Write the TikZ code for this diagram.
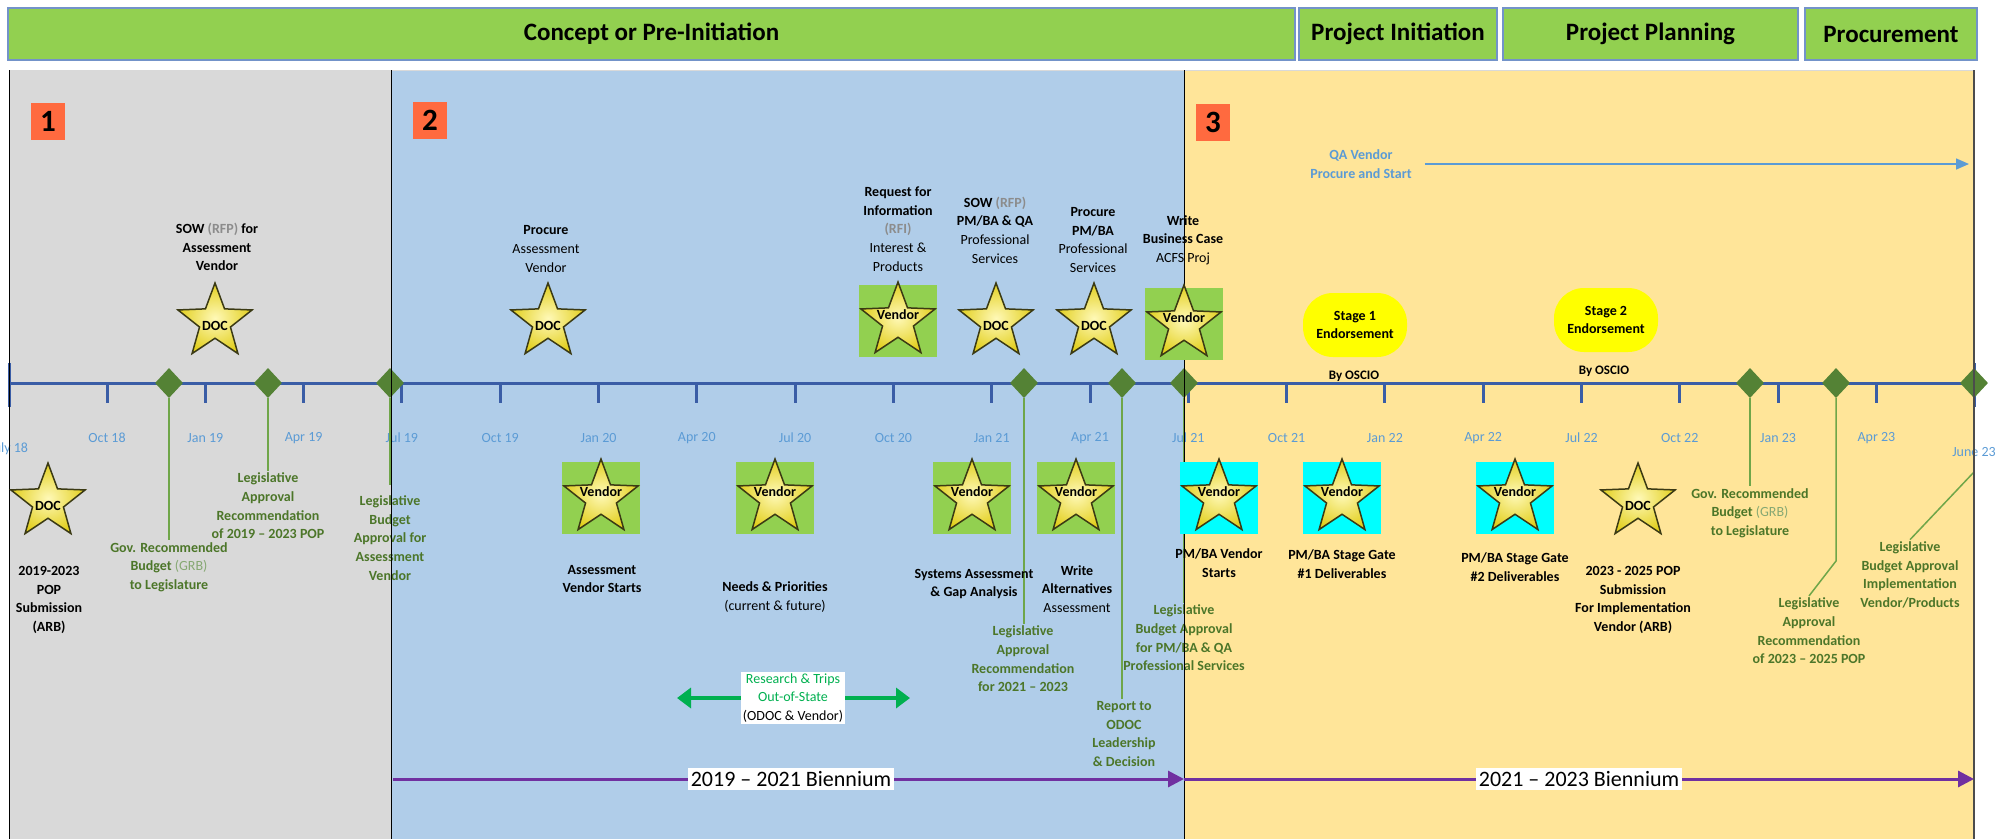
\documentclass[tikz,border=0pt]{standalone}
\usepackage{fontspec}
\setmainfont{Carlito}
\usepackage{tikz}
\usetikzlibrary{arrows.meta,shapes.geometric}
\definecolor{leafgreen}{HTML}{92D050}
\definecolor{phaseline}{HTML}{7393C9}
\definecolor{stonegray}{HTML}{D9D9D9}
\definecolor{skyblue}{HTML}{B0CDE9}
\definecolor{wheat}{HTML}{FFE599}
\definecolor{axisblue}{HTML}{3A5DA6}
\definecolor{flag}{HTML}{FF6A3F}
\definecolor{moss}{HTML}{548235}
\definecolor{stemgreen}{HTML}{6FA649}
\definecolor{mossdark}{HTML}{4C7629}
\definecolor{mosslight}{HTML}{86A873}
\definecolor{monthblue}{HTML}{5B9BD5}
\definecolor{aqua}{HTML}{00FFFF}
\definecolor{grape}{HTML}{7030A0}
\definecolor{tripgreen}{HTML}{00B050}
\definecolor{lemon}{HTML}{FFFF00}
\definecolor{rfpgray}{HTML}{8C8C8C}
\definecolor{starrim}{HTML}{3B3A14}
\definecolor{starcore}{HTML}{FFF9B8}
\definecolor{starglow}{HTML}{E2CF1E}
\tikzset{
  phase/.style={draw=phaseline,line width=1.5pt,fill=leafgreen,minimum height=52pt,
    inner sep=0pt,font=\fontsize{25}{30}\selectfont\bfseries},
  numbox/.style={fill=flag,minimum width=34pt,minimum height=37pt,inner sep=0pt,
    font=\fontsize{31}{31}\selectfont\bfseries},
  month/.style={text=monthblue,font=\fontsize{14}{16}\selectfont},
  axtick/.style={draw=axisblue,line width=3pt},
  gem/.style={diamond,fill=moss,minimum width=28pt,minimum height=30pt,inner sep=0pt},
  stem/.style={draw=stemgreen,line width=1.5pt},
  glab/.style={align=center,text=mossdark,inner sep=2pt,font=\fontsize{14}{18.6}\selectfont\bfseries},
  note/.style={align=center,inner sep=1pt,font=\fontsize{14}{18.6}\selectfont},
  boldnote/.style={note,font=\fontsize{14}{18.6}\selectfont\bfseries},
  starry/.style={star,star points=5,star point ratio=2.4,draw=starrim,line width=1.5pt,
    inner color=starcore,outer color=starglow,minimum size=78pt,inner sep=0pt},
  startxt/.style={font=\fontsize{14}{14}\selectfont\bfseries,inner sep=0pt},
  vbox/.style={minimum width=78pt,minimum height=72pt,inner sep=0pt},
  stage/.style={fill=lemon,rounded corners=30pt,minimum width=104pt,minimum height=64pt,
    align=center,inner sep=0pt,font=\fontsize{14}{18.6}\selectfont\bfseries},
  biarrow/.style={-{Triangle[length=16pt,width=16pt]},draw=grape,line width=3pt},
  bilab/.style={fill=white,inner sep=3pt,font=\fontsize{22}{22}\selectfont},
  trip/.style={-{Triangle[length=14pt,width=20pt]},draw=tripgreen,line width=4pt},
  qaline/.style={-{Triangle[length=13pt,width=11pt]},draw=monthblue,line width=1.5pt},
}
\begin{document}
\begin{tikzpicture}[x=1pt,y=-1pt]
  \useasboundingbox (0,0) rectangle (2005,839);
  \fill[stonegray] (9,70) rectangle (391,839); \fill[skyblue] (391,70) rectangle (1184,839);
  \fill[wheat] (1184,70) rectangle (1974,839);
  \draw[black!15,line width=1pt] (9,70) -- (1974,70);
  \node[phase,minimum width=1287pt] (hd1) at (651.5,34) {Concept or Pre-Initiation};
  \node[phase,minimum width=198pt] (hd2) at (1398,34) {Project Initiation};
  \node[phase,minimum width=295pt] (hd3) at (1650.5,34) {Project Planning};
  \node[phase,minimum width=172pt] (hd4) at (1891,34) {Procurement};
  \node[numbox] (n1) at (48,121) {1}; \node[numbox] (n2) at (430,120) {2};
  \node[numbox] (n3) at (1213,122) {3};
  % time axis
  \coordinate (ax0) at (9,383); \coordinate (ax1) at (1974,383);
  \draw[axtick] (ax0) -- (ax1); \draw[axtick] (9,363) -- (9,407); \draw[axtick] (1974,363) -- (1974,407);
  \foreach \i/\m in {1/Oct 18,2/Jan 19,3/Apr 19,4/Jul 19,5/Oct 19,6/Jan 20,7/Apr 20,8/Jul 20,
    9/Oct 20,10/Jan 21,11/Apr 21,12/Jul 21,13/Oct 21,14/Jan 22,15/Apr 22,16/Jul 22,17/Oct 22,
    18/Jan 23,19/Apr 23}{
    \draw[axtick] (8.7+98.3*\i,383) -- (8.7+98.3*\i,403);
    \node[month] (m\i) at (8.7+98.3*\i,438) {\m};
  }
  \node[month] (m0) at (8.7,449) {July 18}; \node[month] (m20) at (1974,452) {June 23};
  % milestones
  \node[glab] (g1) at (169,567) {Gov. Recommended\\Budget {\mdseries\color{mosslight}(GRB)}\\to Legislature};
  \node[glab] (g2) at (268,506) {Legislative\\Approval\\Recommendation\\of 2019 -- 2023 POP};
  \node[glab] (g3) at (390,538) {Legislative\\Budget\\Approval for\\Assessment\\Vendor};
  \node[glab] (g4) at (1023,659) {Legislative\\Approval\\Recommendation\\for 2021 -- 2023};
  \node[glab] (g5) at (1124,734) {Report to\\ODOC\\Leadership\\ \& Decision};
  \node[glab] (g6) at (1184,638) {Legislative\\Budget Approval\\for PM/BA \& QA\\Professional Services};
  \node[glab] (g7) at (1750,513) {Gov. Recommended\\Budget {\mdseries\color{mosslight}(GRB)}\\to Legislature};
  \node[glab] (g8) at (1809,631) {Legislative\\Approval\\Recommendation\\of 2023 -- 2025 POP};
  \node[glab] (g9) at (1910,575) {Legislative\\Budget Approval\\Implementation\\Vendor/Products};
  \node[gem] (d1) at (169,383) {}; \node[gem] (d2) at (268,383) {}; \node[gem] (d3) at (390,383) {};
  \node[gem] (d4) at (1024,383) {}; \node[gem] (d5) at (1122,383) {}; \node[gem] (d6) at (1184,383) {};
  \node[gem] (d7) at (1750,383) {}; \node[gem] (d8) at (1836,383) {}; \node[gem] (d9) at (1974,383) {};
  \coordinate (k8) at (1836,561); \coordinate (k9) at (1974,472);
  \draw[stem] (d1) -- (d1 |- g1.north); \draw[stem] (d2) -- (d2 |- g2.north);
  \draw[stem] (d3) -- (390,485); \draw[stem] (d4) -- (d4 |- g4.north);
  \draw[stem] (d5) -- (d5 |- g5.north); \draw[stem] (d6) -- (d6 |- g6.north);
  \draw[stem] (d7) -- (d7 |- g7.north); \draw[stem] (d8) -- (k8) -- (g8.north);
  \draw[stem] (d9) -- (k9) -- (g9.north);
  \draw[line width=1pt] (9,70) -- (9,839) (391,70) -- (391,839) (1184,70) -- (1184,839);
  \draw[black!70,line width=2pt] (1974,70) -- (1974,839);
  % stars above the axis
  \node[boldnote] (t1) at (217,247) {SOW {\color{rfpgray}(RFP)} for\\Assessment\\Vendor};
  \node[note] (t2) at (546,249) {\textbf{Procure}\\Assessment\\Vendor};
  \node[note] (t3) at (898,229) {\textbf{Request for}\\\textbf{Information}\\\textbf{\color{rfpgray}(RFI)}\\Interest \&\\Products};
  \node[note] (t4) at (995,230) {\textbf{SOW} \textbf{\color{rfpgray}(RFP)}\\\textbf{PM/BA \& QA}\\Professional\\Services};
  \node[note] (t5) at (1093,240) {\textbf{Procure}\\\textbf{PM/BA}\\Professional\\Services};
  \node[note] (t6) at (1183,240) {\textbf{Write}\\\textbf{Business Case}\\ACFS Proj};
  \node[vbox,fill=leafgreen] (v3) at (898,321) {}; \node[vbox,fill=leafgreen] (v6) at (1184,324) {};
  \node[starry,label={[startxt,yshift=-4pt]center:DOC}] (s1) at (215,322) {};
  \node[starry,label={[startxt,yshift=-4pt]center:DOC}] (s2) at (548,322) {};
  \node[starry,label={[startxt,yshift=6pt]center:Vendor}] (s3) at (v3) {};
  \node[starry,label={[startxt,yshift=-4pt]center:DOC}] (s4) at (996,322) {};
  \node[starry,label={[startxt,yshift=-4pt]center:DOC}] (s5) at (1094,322) {};
  \node[starry,label={[startxt,yshift=6pt]center:Vendor}] (s6) at (v6) {};
  % stars below the axis
  \node[vbox,fill=leafgreen] (v11) at (601,498) {}; \node[vbox,fill=leafgreen] (v12) at (775,498) {};
  \node[vbox,fill=leafgreen] (v13) at (972,498) {}; \node[vbox,fill=leafgreen] (v14) at (1076,498) {};
  \node[vbox,fill=aqua] (v15) at (1219,498) {}; \node[vbox,fill=aqua] (v16) at (1342,498) {};
  \node[vbox,fill=aqua] (v17) at (1515,498) {};
  \node[starry,label={[startxt,yshift=-4pt]center:DOC}] (s10) at (48,502) {};
  \node[starry,label={[startxt,yshift=6pt]center:Vendor}] (s11) at (v11) {};
  \node[starry,label={[startxt,yshift=6pt]center:Vendor}] (s12) at (v12) {};
  \node[starry,label={[startxt,yshift=6pt]center:Vendor}] (s13) at (v13) {};
  \node[starry,label={[startxt,yshift=6pt]center:Vendor}] (s14) at (v14) {};
  \node[starry,label={[startxt,yshift=6pt]center:Vendor}] (s15) at (v15) {};
  \node[starry,label={[startxt,yshift=6pt]center:Vendor}] (s16) at (v16) {};
  \node[starry,label={[startxt,yshift=6pt]center:Vendor}] (s17) at (v17) {};
  \node[starry,label={[startxt,yshift=-4pt]center:DOC}] (s18) at (1638,502) {};
  \node[boldnote] (b10) at (49,600) {2019-2023\\POP\\Submission\\(ARB)};
  \node[boldnote] (b11) at (602,579) {Assessment\\Vendor Starts};
  \node[note] (b12) at (775,597) {\textbf{Needs \& Priorities}\\(current \& future)};
  \node[boldnote] (b13) at (974,584) {Systems Assessment\\\& Gap Analysis};
  \node[note] (b14) at (1077,589) {\textbf{Write}\\\textbf{Alternatives}\\Assessment};
  \node[boldnote] (b15) at (1219,563) {PM/BA Vendor\\Starts};
  \node[boldnote] (b16) at (1342,564) {PM/BA Stage Gate\\\#1 Deliverables};
  \node[boldnote] (b17) at (1515,567) {PM/BA Stage Gate\\\#2 Deliverables};
  \node[boldnote] (b18) at (1633,600) {2023 - 2025 POP\\Submission\\For Implementation\\Vendor (ARB)};
  % endorsements and QA vendor
  \node[stage] (sg1) at (1355,325) {Stage 1\\Endorsement}; \node[stage] (sg2) at (1606,320) {Stage 2\\Endorsement};
  \node[boldnote,font=\fontsize{13}{15}\selectfont\bfseries] (os1) at (1354,376) {By OSCIO};
  \node[boldnote,font=\fontsize{13}{15}\selectfont\bfseries] (os2) at (1604,371) {By OSCIO};
  \node[boldnote,text=monthblue] (qa) at (1361,164) {QA Vendor\\Procure and Start};
  \coordinate (qaend) at (1969,164);
  \draw[qaline,shorten <=12pt] (qa) -- (qaend);
  % research trips
  \node[note,fill=white,inner sep=2pt] (rs) at (793,698) {\textcolor{tripgreen}{Research \& Trips}\\\textcolor{tripgreen}{Out-of-State}\\(ODOC \& Vendor)};
  \coordinate (tripL) at (677,698); \coordinate (tripR) at (910,698);
  \draw[trip] (rs) -- (tripL); \draw[trip] (rs) -- (tripR);
  % biennium arrows
  \coordinate (bi0) at (393,779); \coordinate (bi1) at (1184,779); \coordinate (bi2) at (1974,779);
  \node[bilab] (bl1) at (791,779) {2019 -- 2021 Biennium}; \node[bilab] (bl2) at (1579,779) {2021 -- 2023 Biennium};
  \draw[biarrow] (bi0) -- (bl1) -- (bi1); \draw[biarrow] (bi1) -- (bl2) -- (bi2);
\end{tikzpicture}
\end{document}
